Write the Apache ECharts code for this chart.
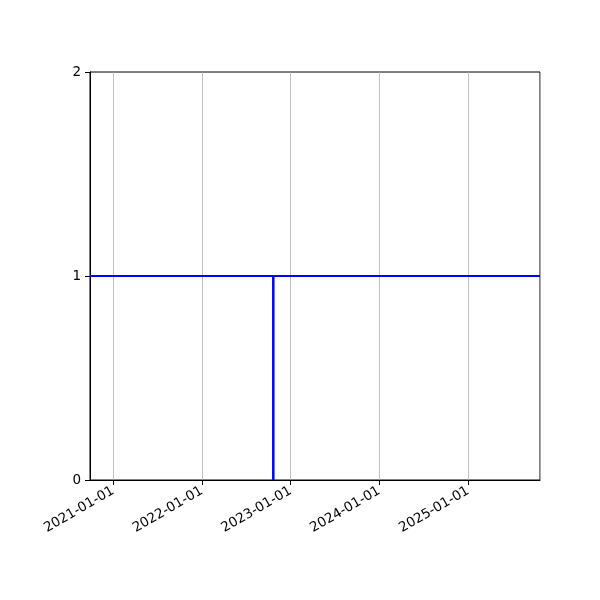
<!DOCTYPE html>
<html>
<head>
<meta charset="utf-8">
<script src="https://cdn.jsdelivr.net/npm/echarts@6/dist/echarts.min.js"></script>
<style>
  html, body { margin: 0; padding: 0; background: #fff; }
  #main { width: 600px; height: 600px; }
</style>
</head>
<body>
<div id="main"></div>
<script>
var chartDom = document.getElementById('main');
var myChart = echarts.init(chartDom);
var option;

// x range shown, horizontal level and the single vertical drop
var xRange = ['2020-09-28', '2025-10-23'];
var levelDates = ['2020-09-28', '2025-10-23'];
var levelValues = [1, 1];
var dropDates = ['2022-10-22', '2022-10-22'];
var dropValues = [0, 1];
var yTicks = [0, 1, 2];

var DAY = 86400000;
var font = 'DejaVu Sans';

function pairs(dates, values) {
    return dates.map(function (d, i) {
        return [d, values[i]];
    });
}

option = {
    animation: false,
    backgroundColor: '#fff',
    grid: {
        left: 90,
        right: 60,
        top: 72,
        bottom: 120,
        show: true,
        borderColor: '#000',
        borderWidth: 1
    },
    xAxis: {
        type: 'time',
        min: xRange[0],
        max: xRange[1],
        minInterval: 365 * DAY,
        maxInterval: 366 * DAY,
        axisLine: { show: true, lineStyle: { color: '#000', width: 1 } },
        axisTick: { show: true, length: 5, lineStyle: { color: '#000' } },
        splitLine: { show: true, lineStyle: { color: '#b0b0b0', width: 0.8 } },
        axisLabel: {
            formatter: '{yyyy}-{MM}-{dd}',
            rotate: 30,
            color: '#000',
            fontFamily: font,
            fontSize: 13.5,
            margin: 10,
            showMinLabel: false,
            showMaxLabel: false,
            hideOverlap: false
        }
    },
    yAxis: {
        type: 'value',
        min: yTicks[0],
        max: yTicks[yTicks.length - 1],
        interval: 1,
        axisLine: { show: true, lineStyle: { color: '#000', width: 1 } },
        axisTick: { show: true, length: 5, lineStyle: { color: '#000' } },
        splitLine: { show: false },
        axisLabel: {
            color: '#000',
            fontFamily: font,
            fontSize: 13.5,
            margin: 9
        }
    },
    series: [
        {
            type: 'line',
            data: pairs(levelDates, levelValues),
            symbol: 'none',
            lineStyle: { color: '#0000ff', width: 2 }
        },
        {
            type: 'line',
            data: pairs(dropDates, dropValues),
            symbol: 'none',
            lineStyle: { color: '#0000ff', width: 2.5 }
        }
    ]
};

option && myChart.setOption(option);
</script>
</body>
</html>
